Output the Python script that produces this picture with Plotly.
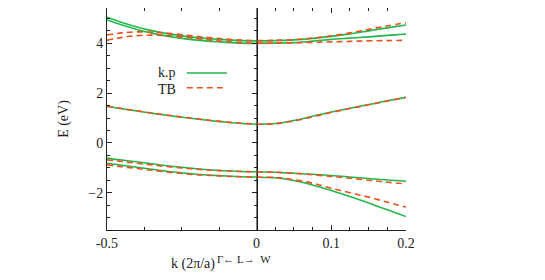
import plotly.graph_objects as go

# ---- data (energies in eV) ----
K_LEFT = [-0.5, -0.45, -0.4, -0.35, -0.3, -0.25, -0.2, -0.15, -0.1, -0.05, 0.0]
K_RIGHT = [0.0, 0.025, 0.05, 0.075, 0.1, 0.125, 0.15, 0.175, 0.2]

# k.p bands, Gamma <- L direction
KP_C2_L = [5.05, 4.84, 4.66, 4.51, 4.39, 4.30, 4.23, 4.18, 4.14, 4.11, 4.10]
KP_C1_L = [4.94, 4.74, 4.56, 4.41, 4.29, 4.20, 4.13, 4.08, 4.04, 4.01, 4.00]
KP_M_L = [1.46, 1.37, 1.28, 1.19, 1.11, 1.03, 0.96, 0.89, 0.83, 0.78, 0.75]
KP_V1_L = [-0.61, -0.69, -0.76, -0.84, -0.92, -0.98, -1.04, -1.09, -1.12, -1.15, -1.16]
KP_V2_L = [-0.82, -0.90, -0.98, -1.06, -1.14, -1.20, -1.26, -1.30, -1.33, -1.36, -1.37]
# TB bands, Gamma <- L direction
TB_C2_L = [4.34, 4.42, 4.46, 4.45, 4.41, 4.35, 4.28, 4.22, 4.17, 4.13, 4.11]
TB_C1_L = [4.12, 4.24, 4.31, 4.33, 4.31, 4.26, 4.19, 4.13, 4.07, 4.03, 4.01]
TB_M_L = [1.47, 1.38, 1.29, 1.20, 1.12, 1.04, 0.97, 0.90, 0.84, 0.79, 0.75]
TB_V1_L = [-0.68, -0.75, -0.82, -0.89, -0.95, -1.01, -1.06, -1.10, -1.13, -1.15, -1.16]
TB_V2_L = [-0.88, -0.96, -1.03, -1.10, -1.17, -1.23, -1.28, -1.31, -1.34, -1.36, -1.37]

# k.p bands, L -> W direction
KP_C2_R = [4.10, 4.11, 4.14, 4.20, 4.28, 4.38, 4.50, 4.62, 4.74]
KP_C1_R = [4.00, 4.01, 4.03, 4.09, 4.16, 4.21, 4.26, 4.32, 4.37]
KP_M_R = [0.75, 0.78, 0.90, 1.07, 1.24, 1.39, 1.54, 1.69, 1.83]
KP_V1_R = [-1.16, -1.18, -1.22, -1.26, -1.31, -1.37, -1.43, -1.49, -1.54]
KP_V2_R = [-1.38, -1.40, -1.51, -1.69, -1.91, -2.15, -2.42, -2.69, -2.96]
# TB bands, L -> W direction
TB_C2_R = [4.11, 4.12, 4.15, 4.21, 4.30, 4.42, 4.56, 4.70, 4.83]
TB_C1_R = [4.01, 4.01, 4.02, 4.04, 4.06, 4.08, 4.10, 4.11, 4.12]
TB_M_R = [0.75, 0.77, 0.88, 1.05, 1.22, 1.38, 1.53, 1.68, 1.83]
TB_V1_R = [-1.16, -1.18, -1.22, -1.28, -1.35, -1.42, -1.50, -1.58, -1.65]
TB_V2_R = [-1.38, -1.39, -1.48, -1.62, -1.82, -2.00, -2.18, -2.38, -2.58]

X_TICKS_L = [-0.5]
X_TICKTEXT_L = ["-0.5"]
X_TICKS_R = [0.0, 0.1, 0.2]
X_TICKTEXT_R = ["0", "0.1", "0.2"]
Y_TICKS = [-2, 0, 2, 4]

GREEN = "#22b84c"
RED = "#e8531f"
FONT = "Liberation Serif"
INK = "#222"

fig = go.Figure()

kp_left = [KP_C2_L, KP_C1_L, KP_M_L, KP_V1_L, KP_V2_L]
tb_left = [TB_C2_L, TB_C1_L, TB_M_L, TB_V1_L, TB_V2_L]
kp_right = [KP_C2_R, KP_C1_R, KP_M_R, KP_V1_R, KP_V2_R]
tb_right = [TB_C2_R, TB_C1_R, TB_M_R, TB_V1_R, TB_V2_R]

for band in kp_left:
    fig.add_trace(go.Scatter(x=K_LEFT, y=band, mode="lines", xaxis="x", yaxis="y",
                             line=dict(color=GREEN, width=1.6, shape="spline"),
                             showlegend=False, hoverinfo="skip"))
for band in tb_left:
    fig.add_trace(go.Scatter(x=K_LEFT, y=band, mode="lines", xaxis="x", yaxis="y",
                             line=dict(color=RED, width=1.6, dash="6px,4px", shape="spline"),
                             showlegend=False, hoverinfo="skip"))
for band in kp_right:
    fig.add_trace(go.Scatter(x=K_RIGHT, y=band, mode="lines", xaxis="x2", yaxis="y",
                             line=dict(color=GREEN, width=1.6, shape="spline"),
                             showlegend=False, hoverinfo="skip"))
for band in tb_right:
    fig.add_trace(go.Scatter(x=K_RIGHT, y=band, mode="lines", xaxis="x2", yaxis="y",
                             line=dict(color=RED, width=1.6, dash="6px,4px", shape="spline"),
                             showlegend=False, hoverinfo="skip"))

axis_common = dict(showline=True, linecolor=INK, linewidth=1, mirror="ticks",
                   ticks="inside", ticklen=5, tickcolor=INK, showgrid=False,
                   zeroline=False, automargin=False,
                   tickfont=dict(family=FONT, size=14, color=INK))

# The page body adds an 8px offset, so the figure is sized to fit the window.
fig.update_layout(
    width=537, height=272,
    margin=dict(l=99, r=139, t=0, b=50),
    paper_bgcolor="white", plot_bgcolor="white",
    font=dict(family=FONT, size=14, color=INK),
    xaxis=dict(domain=[0, 0.5], range=[-0.5, 0], anchor="y",
               tickmode="array", tickvals=X_TICKS_L, ticktext=X_TICKTEXT_L,
               minor=dict(tickvals=[-0.375, -0.25, -0.125], ticks="inside", ticklen=3,
                          tickcolor=INK),
               **axis_common),
    xaxis2=dict(domain=[0.5, 1], range=[0, 0.2], anchor="y",
                tickmode="array", tickvals=X_TICKS_R, ticktext=X_TICKTEXT_R,
                minor=dict(tickvals=[0.025, 0.05, 0.075, 0.125, 0.15, 0.175],
                           ticks="inside", ticklen=3, tickcolor=INK),
                **axis_common),
    yaxis=dict(range=[-3.5, 5.42], anchor="x", tickmode="array", tickvals=Y_TICKS,
               minor=dict(dtick=0.5, tick0=0, ticks="inside", ticklen=3, tickcolor=INK),
               title=dict(text="E (eV)", font=dict(family=FONT, size=14), standoff=16),
               **axis_common),
    showlegend=False,
)

# vertical line at the L point
fig.add_shape(type="line", xref="x2", yref="paper", x0=0, x1=0, y0=0, y1=1,
              line=dict(color="black", width=1.5))

# legend (gnuplot style: label then sample)
fig.add_annotation(xref="paper", yref="paper", x=0.237, y=0.708, text="k.p",
                   showarrow=False, xanchor="right", yanchor="middle",
                   font=dict(family=FONT, size=14, color=INK))
fig.add_annotation(xref="paper", yref="paper", x=0.237, y=0.632, text="TB",
                   showarrow=False, xanchor="right", yanchor="middle",
                   font=dict(family=FONT, size=14, color=INK))
fig.add_shape(type="line", xref="paper", yref="paper", x0=0.267, x1=0.401, y0=0.707, y1=0.707,
              line=dict(color=GREEN, width=1.6))
fig.add_shape(type="line", xref="paper", yref="paper", x0=0.267, x1=0.401, y0=0.641, y1=0.641,
              line=dict(color=RED, width=1.6, dash="6px,4px"))

# x-axis title
fig.add_annotation(xref="paper", yref="paper", x=0.208, y=-0.155, text="k (2π/a)",
                   showarrow=False, xanchor="left", yanchor="middle",
                   font=dict(family=FONT, size=14, color=INK))
fig.add_annotation(xref="paper", yref="paper", x=0.36, y=-0.132, text="Γ← L→  W",
                   showarrow=False, xanchor="left", yanchor="middle",
                   font=dict(family=FONT, size=11, color=INK))

fig.write_html("out.html")
